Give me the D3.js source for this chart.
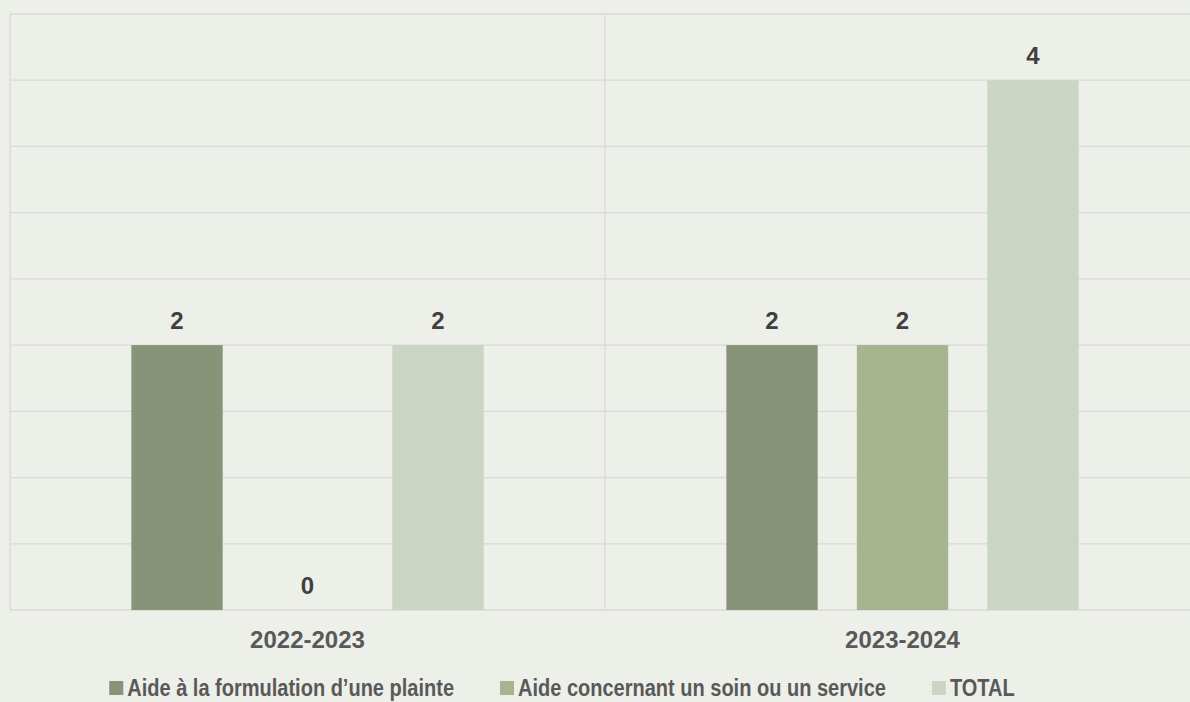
<!DOCTYPE html>
<html lang="fr">
<head>
  <meta charset="UTF-8">
  <title>Aides 2022-2024</title>
  <style>
    body {
      margin: 0;
      background-color: #edefe9;
    }
    .cat-label {
      font-family: 'Liberation Sans', Arial, sans-serif;
      font-weight: bold;
      font-size: 24px;
      fill: #595959;
    }
    .value-label {
      font-family: 'Liberation Sans', Arial, sans-serif;
      font-weight: bold;
      font-size: 24px;
      fill: #404040;
    }
    .legend-text {
      font-family: 'Liberation Sans', Arial, sans-serif;
      font-weight: bold;
      font-size: 23px;
      fill: #595959;
    }
  </style>
  <script src="https://d3js.org/d3.v7.min.js"></script>
</head>
<body>
  <svg id="chart" width="1190" height="702"></svg>

  <script>
    const categories = ["2022-2023", "2023-2024"];
    const seriesNames = ["Aide à la formulation d’une plainte", "Aide concernant un soin ou un service", "TOTAL"];
    const formulation = [2, 2];
    const soinService = [0, 2];
    const total = [2, 4];
    const yTicks = [0, 0.5, 1, 1.5, 2, 2.5, 3, 3.5, 4, 4.5];
    const colors = ["#879478", "#a6b590", "#cbd5c3"];

    const seriesValues = [formulation, soinService, total];

    const svg = d3.select("#chart");
    const margin = { left: 10, top: 14, right: -10, bottom: 92 };
    const width = 1190, height = 702;
    const narrow = 0.87; // legend font is a condensed face
    const gap = 46;

    const x0 = d3.scaleBand()
      .domain(categories)
      .range([margin.left, width - margin.right]);

    const x1 = d3.scaleBand()
      .domain(seriesNames)
      .range([0, x0.bandwidth()])
      .paddingInner(0.3)
      .paddingOuter(0.93);

    const y = d3.scaleLinear()
      .domain([0, 4.5])
      .range([height - margin.bottom, margin.top]);

    // horizontal gridlines
    svg.append("g")
      .selectAll("line")
      .data(yTicks)
      .enter().append("line")
      .attr("x1", margin.left)
      .attr("x2", width - margin.right)
      .attr("y1", d => y(d))
      .attr("y2", d => y(d))
      .attr("stroke", "#d9d9d9")
      .attr("stroke-width", 1.3);

    // vertical separators between categories
    const seps = categories.map(c => x0(c)).concat([x0.range()[1]]);
    svg.append("g")
      .selectAll("line")
      .data(seps)
      .enter().append("line")
      .attr("x1", d => d)
      .attr("x2", d => d)
      .attr("y1", y(4.5))
      .attr("y2", y(0))
      .attr("stroke", "#d9d9d9")
      .attr("stroke-width", 1.3);

    // bars
    const rows = [];
    categories.forEach((c, i) => {
      seriesNames.forEach((s, j) => {
        rows.push({ cat: c, series: s, idx: j, value: seriesValues[j][i] });
      });
    });

    svg.append("g")
      .selectAll("rect")
      .data(rows)
      .enter().append("rect")
      .attr("x", d => x0(d.cat) + x1(d.series))
      .attr("y", d => y(d.value))
      .attr("width", x1.bandwidth())
      .attr("height", d => y(0) - y(d.value))
      .attr("fill", d => colors[d.idx]);

    // value labels
    svg.append("g")
      .selectAll("text")
      .data(rows)
      .enter().append("text")
      .attr("class", "value-label")
      .attr("text-anchor", "middle")
      .attr("x", d => x0(d.cat) + x1(d.series) + x1.bandwidth() / 2)
      .attr("y", d => y(d.value) - 16)
      .text(d => d.value);

    // category labels
    svg.append("g")
      .selectAll("text")
      .data(categories)
      .enter().append("text")
      .attr("class", "cat-label")
      .attr("text-anchor", "middle")
      .attr("x", d => x0(d) + x0.bandwidth() / 2)
      .attr("y", y(0) + 38)
      .text(d => d);

    // legend
    const legend = svg.append("g");
    const items = legend.selectAll("g")
      .data(seriesNames)
      .enter().append("g");
    items.append("rect")
      .attr("width", 14)
      .attr("height", 14)
      .attr("y", -15)
      .attr("fill", (d, i) => colors[i]);
    items.append("text")
      .attr("class", "legend-text")
      .attr("transform", `translate(18,0) scale(${narrow},1)`)
      .text(d => d);

    let xPos = 0;
    items.each(function () {
      const w = 18 + d3.select(this).select("text").node().getBBox().width * narrow;
      d3.select(this).attr("transform", `translate(${xPos},0)`);
      xPos += w + gap;
    });
    const legendW = xPos - gap;
    legend.attr("transform", `translate(${562 - legendW / 2},696)`);
  </script>
</body>
</html>
